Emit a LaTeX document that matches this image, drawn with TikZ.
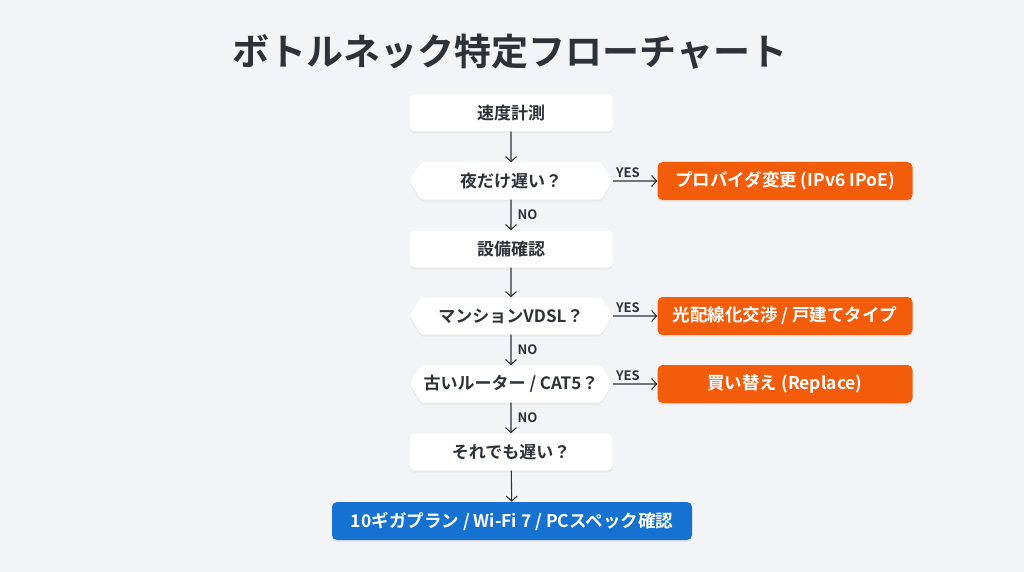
\documentclass[tikz,border=0pt]{standalone}
\usepackage{fontspec}
\setmainfont{Noto Sans CJK JP}[BoldFont={* Bold}]
\usetikzlibrary{shapes.symbols, shadows, arrows.meta}
\definecolor{bggray}{RGB}{243,244,246}
\definecolor{inkgray}{RGB}{45,49,56}
\definecolor{actorange}{RGB}{242,92,10}
\definecolor{endblue}{RGB}{22,114,208}
\begin{document}
\begin{tikzpicture}[x=1pt, y=-1pt]
        % Define styles
        \tikzstyle{boxshadow}=[drop shadow={opacity=0.10, shadow xshift=0pt, shadow yshift=-2pt}]
        \tikzstyle{process}=[rectangle, rounded corners=5pt, fill=white, boxshadow, minimum width=203pt, minimum height=37pt, font=\bfseries\fontsize{17}{19}\selectfont, text=inkgray]
        \tikzstyle{decision}=[signal, signal to=west and east, signal pointer angle=116, rounded corners=2pt, fill=white, boxshadow, minimum width=203pt, minimum height=37pt, inner xsep=2pt, font=\bfseries\fontsize{17}{19}\selectfont, text=inkgray]
        \tikzstyle{action}=[rectangle, rounded corners=5pt, fill=actorange, boxshadow, minimum width=255pt, minimum height=38pt, font=\bfseries\fontsize{17.5}{19}\selectfont, text=white]
        \tikzstyle{result}=[rectangle, rounded corners=5pt, fill=endblue, boxshadow, minimum width=360pt, minimum height=38pt, font=\bfseries\fontsize{17.5}{19}\selectfont, text=white]
        \tikzstyle{arrow}=[-{Straight Barb[length=5pt, width=11pt]}, draw=inkgray, line width=1.1pt]
        \tikzstyle{lbl}=[font=\bfseries\fontsize{13}{15}\selectfont, text=inkgray, inner sep=1pt]

        % Background
        \fill[bggray] (0,0) rectangle (1024,572);
        \useasboundingbox (0,0) rectangle (1024,572);

        % Title
        \node[font=\bfseries\fontsize{37}{40}\selectfont, text=inkgray] (title) at (510,52) {ボトルネック特定フローチャート};

        % Main column
        \node[process] (measure) at (511,113) {速度計測};
        \node[decision] (night) at (511,181) {夜だけ遅い？};
        \node[process] (check) at (511,249) {設備確認};
        \node[decision] (vdsl) at (511,316) {マンションVDSL？};
        \node[decision] (router) at (511,384) {古いルーター / CAT5？};
        \node[process] (still) at (511,452) {それでも遅い？};
        \node[result] (final) at (512,521) {10ギガプラン / Wi-Fi 7 / PCスペック確認};

        % Actions (YES side)
        \node[action] (isp) at (785,181) {プロバイダ変更 (IPv6 IPoE)};
        \node[action] (fiber) at (785,316) {光配線化交渉 / 戸建てタイプ};
        \node[action] (replace) at (785,384) {買い替え (Replace)};

        % Arrows
        \draw[arrow] (measure) -- (night);
        \draw[arrow] (night) -- (check) node[lbl, midway, right, xshift=5pt] {NO};
        \draw[arrow] (check) -- (vdsl);
        \draw[arrow] (vdsl) -- (router) node[lbl, midway, right, xshift=5pt] {NO};
        \draw[arrow] (router) -- (still) node[lbl, midway, right, xshift=5pt] {NO};
        \draw[arrow] (still) -- (final);
        \draw[arrow] (night) -- (isp) node[lbl, near start, above, xshift=4pt, yshift=2pt] {YES};
        \draw[arrow] (vdsl) -- (fiber) node[lbl, near start, above, xshift=4pt, yshift=2pt] {YES};
        \draw[arrow] (router) -- (replace) node[lbl, near start, above, xshift=4pt, yshift=2pt] {YES};

\end{tikzpicture}
\end{document}
